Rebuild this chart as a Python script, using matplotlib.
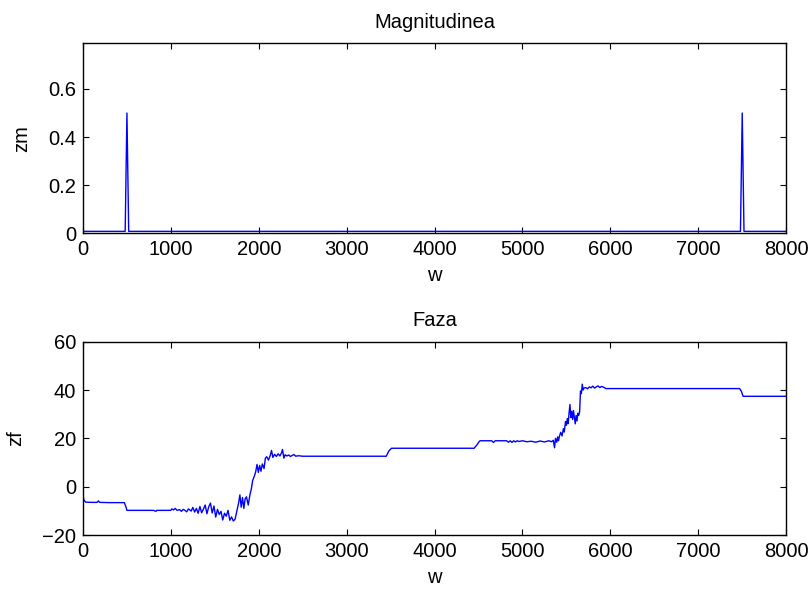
import matplotlib
matplotlib.use("Agg")
import matplotlib.pyplot as plt
import numpy as np

plt.rcParams['font.family'] = ['Liberation Sans', 'DejaVu Sans']

# magnitude spectrum: flat near zero with two spikes
w_mag = [0, 480, 500, 520, 7480, 7500, 7520, 7990]
zm = [0.008, 0.008, 0.5, 0.008, 0.008, 0.5, 0.008, 0.008]

# phase
w_phase = [0, 10, 30, 100, 160, 175, 190, 300, 470, 490, 500, 800, 830, 840, 1000,
           1010, 1030, 1050, 1070, 1100, 1120, 1140, 1160, 1180, 1200, 1230, 1250,
           1270, 1290, 1310, 1330, 1350, 1370, 1390, 1410, 1430, 1450, 1470, 1490,
           1510, 1530, 1550, 1570, 1590, 1610, 1630, 1650, 1670, 1690, 1710, 1730,
           1750, 1770, 1785, 1800, 1815, 1830, 1845, 1860, 1880, 1900, 1915, 1930,
           1950, 1965, 1980, 1995, 2010, 2025, 2040, 2060, 2075, 2090, 2110, 2130,
           2145, 2160, 2180, 2200, 2220, 2240, 2260, 2270, 2285, 2300, 2320, 2340,
           2360, 2380, 2400, 2420, 2450, 2500, 2550, 3450, 3480, 3510, 4450, 4480,
           4510, 4520, 4650, 4670, 4690, 4820, 4840, 4860, 4880, 4900, 4920, 4940,
           4960, 5000, 5050, 5100, 5150, 5200, 5250, 5300, 5330, 5350, 5365, 5375,
           5390, 5400, 5410, 5420, 5435, 5450, 5465, 5475, 5490, 5500, 5510, 5520,
           5530, 5540, 5550, 5560, 5570, 5580, 5590, 5600, 5610, 5620, 5630, 5640,
           5650, 5660, 5670, 5680, 5690, 5700, 5720, 5740, 5760, 5780, 5800, 5820,
           5840, 5860, 5880, 5900, 5920, 5950, 7470, 7490, 7510, 7990]
zf = [-3.5, -5.5, -6.4, -6.5, -6.5, -5.9, -6.5, -6.6, -6.6, -8.5, -9.8, -9.8, -10.2, -9.8, -9.8,
      -9.2, -9.6, -9.0, -9.8, -9.5, -10.2, -9.4, -9.8, -10.4, -9.2, -10.1, -8.6,
      -10.5, -9.0, -11.0, -8.2, -10.8, -9.3, -7.6, -11.2, -8.4, -6.8, -10.9, -8.0,
      -12.6, -9.4, -11.5, -10.2, -13.8, -11.0, -12.2, -9.8, -13.9, -12.5, -14.2, -13.5,
      -10.2, -6.8, -3.4, -8.5, -4.5, -9.0, -5.0, -4.2, -7.6, -3.2, -1.0, 2.5,
      4.4, 6.2, 9.2, 5.9, 8.8, 6.4, 9.4, 7.5, 11.8, 12.4, 11.0, 12.9,
      15.0, 12.1, 13.4, 12.5, 13.6, 12.7, 14.1, 15.4, 11.8, 13.2, 12.7, 13.1,
      12.5, 12.9, 13.3, 12.6, 12.8, 12.6, 12.6, 12.6, 14.8, 15.9, 15.9, 17.2,
      18.8, 19.0, 19.0, 18.3, 19.0, 19.0, 18.4, 19.0, 18.3, 19.0, 18.5, 19.0,
      18.7, 19.0, 18.6, 18.8, 18.4, 18.9, 18.5, 19.0, 18.6, 19.2, 16.1, 20.0,
      18.4, 20.6, 19.0, 20.8, 22.5, 21.0, 24.0, 22.6, 27.0, 25.4, 28.2, 26.1,
      30.5, 34.0, 28.6, 31.2, 27.8, 31.5, 28.8, 26.0, 29.5, 27.2, 30.4, 29.5,
      31.0, 39.6, 38.5, 42.4, 40.0, 40.8, 41.0, 40.5, 41.3, 40.9, 41.6, 40.8,
      41.3, 41.7, 41.0, 41.5, 41.2, 40.6, 40.6, 39.5, 37.4, 37.4]

fs = 14.5

fig = plt.figure(figsize=(8.12, 5.93), dpi=100)
ax1 = fig.add_axes([0.1022, 0.6066, 0.866, 0.3204])
ax2 = fig.add_axes([0.1022, 0.0978, 0.866, 0.326])

ax1.plot(w_mag, zm, color='blue', linewidth=1)
ax1.set_xlim(0, 8000)
ax1.set_ylim(0, 0.79)
ax1.set_yticks([0, 0.2, 0.4, 0.6])
ax1.set_yticklabels(['0', '0.2', '0.4', '0.6'])
ax1.set_xticks(np.arange(0, 8001, 1000))
ax1.set_title('Magnitudinea', fontsize=fs, pad=11)
ax1.set_xlabel('w', fontsize=fs, labelpad=5)
ax1.set_ylabel('zm', fontsize=fs, labelpad=12)

ax2.plot(w_phase, zf, color='blue', linewidth=1)
ax2.set_xlim(0, 8000)
ax2.set_ylim(-20, 60)
ax2.set_yticks([-20, 0, 20, 40, 60])
ax2.set_yticklabels(['\u221220', '0', '20', '40', '60'])
ax2.set_xticks(np.arange(0, 8001, 1000))
ax2.set_title('Faza', fontsize=fs, pad=11)
ax2.set_xlabel('w', fontsize=fs, labelpad=5)
ax2.set_ylabel('zf', fontsize=fs, labelpad=12)

for ax in (ax1, ax2):
    ax.tick_params(direction='in', top=True, right=True, length=4, labelsize=fs, pad=5)
    for s in ax.spines.values():
        s.set_linewidth(1)

plt.savefig('out.png', dpi=100)
